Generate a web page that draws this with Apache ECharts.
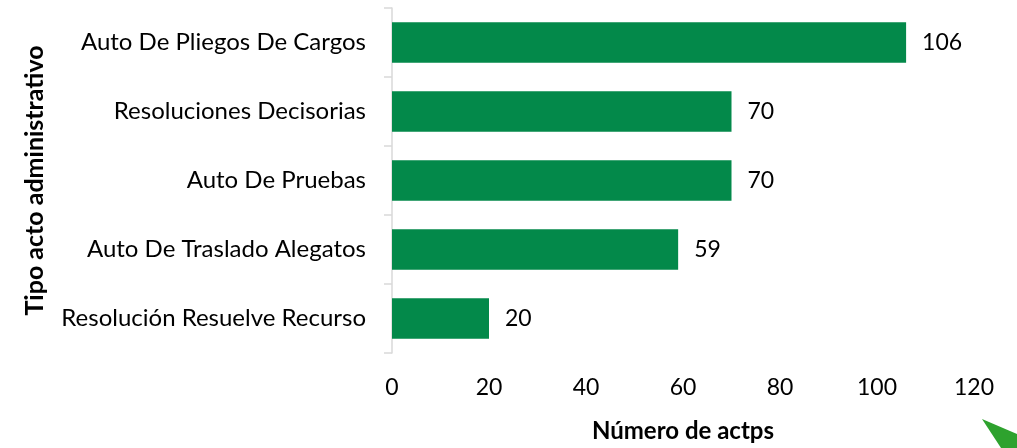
<!DOCTYPE html>
<html>
<head>
<meta charset="utf-8">
<script src="https://cdn.jsdelivr.net/npm/echarts@6/dist/echarts.min.js"></script>
<style>html,body{margin:0;padding:0;background:#fff;}#c{width:1017px;height:448px;}</style>
</head>
<body>
<div id="c"></div>
<script>
const categories = ["Auto De Pliegos De Cargos", "Resoluciones Decisorias", "Auto De Pruebas", "Auto De Traslado Alegatos", "Resolución Resuelve Recurso"];
const values = [106, 70, 70, 59, 20];
const xTicks = [0, 20, 40, 60, 80, 100, 120];
const xName = "Número de actps";
const yName = "Tipo acto administrativo";
const FONT = "Lato";
const chart = echarts.init(document.getElementById('c'));
chart.setOption({
  animation: false,
  grid: {left: 392, right: 43, top: 8, bottom: 90},
  xAxis: {
    type: 'value', min: xTicks[0], max: xTicks[xTicks.length-1], interval: 20,
    axisLine: {show: false}, axisTick: {show: false}, splitLine: {show: false},
    axisLabel: {fontFamily: FONT, fontSize: 23, color: '#000', margin: 23},
    name: xName, nameLocation: 'middle', nameGap: 66,
    nameTextStyle: {fontFamily: FONT, fontSize: 24, fontWeight: 'bold', color: '#000'}
  },
  yAxis: {
    type: 'category', data: categories, inverse: true,
    axisLine: {show: true, lineStyle: {color: '#d9d9d9', width: 1.5}},
    axisTick: {show: true, length: 8, lineStyle: {color: '#d9d9d9', width: 1.5}},
    axisLabel: {fontFamily: FONT, fontSize: 24, color: '#000', margin: 26},
    name: yName, nameLocation: 'middle', nameGap: 345, nameRotate: 90,
    nameTextStyle: {fontFamily: FONT, fontSize: 25, fontWeight: 'bold', color: '#000'}
  },
  series: [{
    type: 'bar', data: values, barCategoryGap: '41%',
    itemStyle: {color: '#03894a'},
    label: {show: true, position: 'right', distance: 16, fontFamily: FONT, fontSize: 23, color: '#000'}
  }],
  graphic: [{
    type: 'polygon', shape: {points: [[982, 419], [1017, 434], [1017, 448], [1001, 448]]},
    style: {fill: '#2ea22e'}
  }]
});
</script>
</body>
</html>
